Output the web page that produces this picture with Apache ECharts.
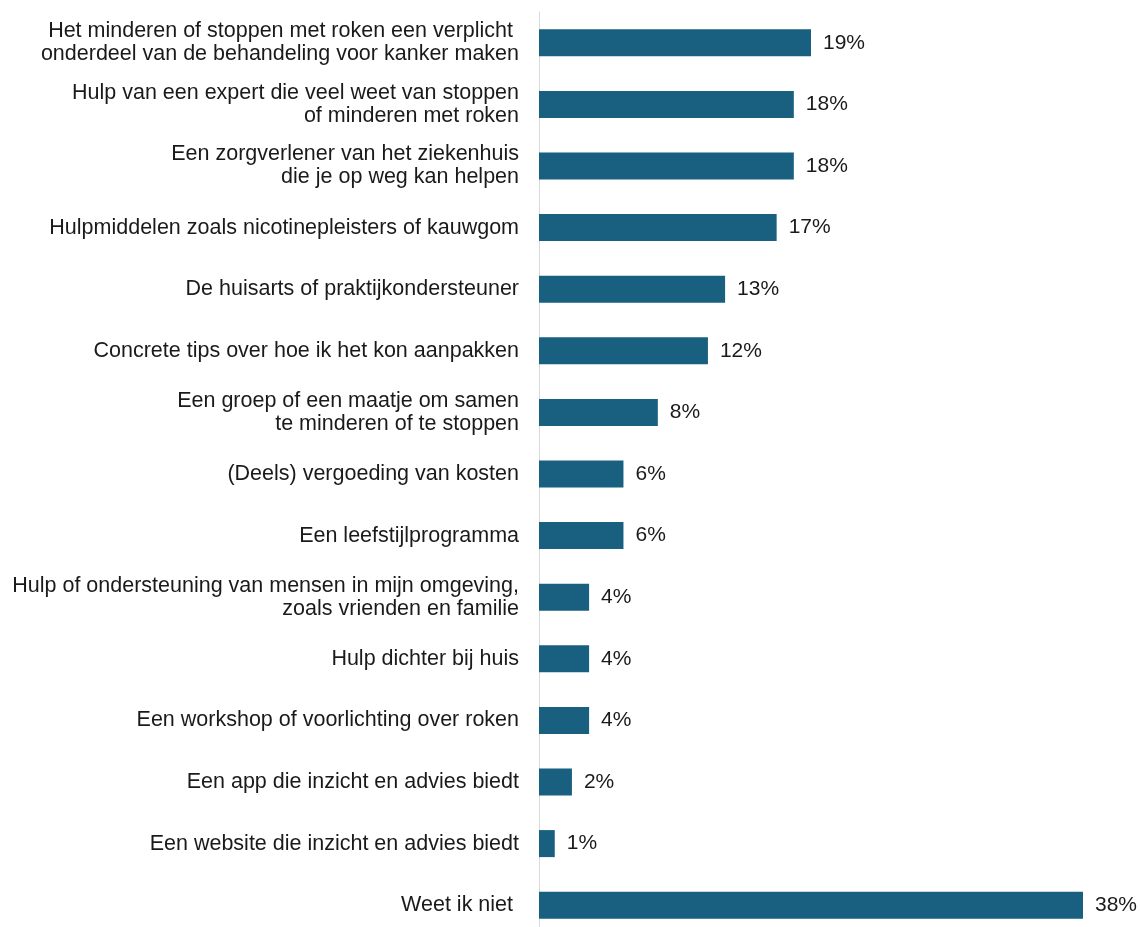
<!DOCTYPE html>
<html>
<head>
<meta charset="utf-8">
<script src="https://cdn.jsdelivr.net/npm/echarts@6/dist/echarts.min.js"></script>
<style>
html,body{margin:0;padding:0;background:#fff;overflow:hidden;}
#chart{width:1140px;height:940px;}
</style>
</head>
<body>
<div id="chart"></div>
<script>
const categories = [
  "Het minderen of stoppen met roken een verplicht \nonderdeel van de behandeling voor kanker maken",
  "Hulp van een expert die veel weet van stoppen\nof minderen met roken",
  "Een zorgverlener van het ziekenhuis\ndie je op weg kan helpen",
  "Hulpmiddelen zoals nicotinepleisters of kauwgom",
  "De huisarts of praktijkondersteuner",
  "Concrete tips over hoe ik het kon aanpakken",
  "Een groep of een maatje om samen\nte minderen of te stoppen",
  "(Deels) vergoeding van kosten",
  "Een leefstijlprogramma",
  "Hulp of ondersteuning van mensen in mijn omgeving,\nzoals vrienden en familie",
  "Hulp dichter bij huis",
  "Een workshop of voorlichting over roken",
  "Een app die inzicht en advies biedt",
  "Een website die inzicht en advies biedt",
  "Weet ik niet "
];
const values = [19.0, 17.8, 17.8, 16.6, 13.0, 11.8, 8.3, 5.9, 5.9, 3.5, 3.5, 3.5, 2.3, 1.1, 38.0];

const chart = echarts.init(document.getElementById('chart'));
chart.setOption({
  animation: false,
  grid: { left: 539, right: 57, top: 12, height: 924, containLabel: false },
  xAxis: {
    type: 'value', min: 0, max: 38,
    show: false
  },
  yAxis: {
    type: 'category',
    inverse: true,
    data: categories,
    axisLine: { show: true, lineStyle: { color: '#d9d9d9', width: 1 } },
    axisTick: { show: false },
    axisLabel: {
      margin: 20,
      color: '#1a1a1a',
      fontFamily: 'Liberation Sans, Arial, sans-serif',
      fontSize: 21.5,
      lineHeight: 23,
      align: 'right'
    }
  },
  series: [{
    type: 'bar',
    data: values,
    barWidth: 27,
    itemStyle: { color: '#185f80' },
    label: {
      show: true,
      position: 'right',
      distance: 12,
      color: '#1a1a1a',
      fontFamily: 'Liberation Sans, Arial, sans-serif',
      fontSize: 21,
      formatter: p => Math.round(p.value) + '%'
    }
  }]
});
</script>
</body>
</html>
